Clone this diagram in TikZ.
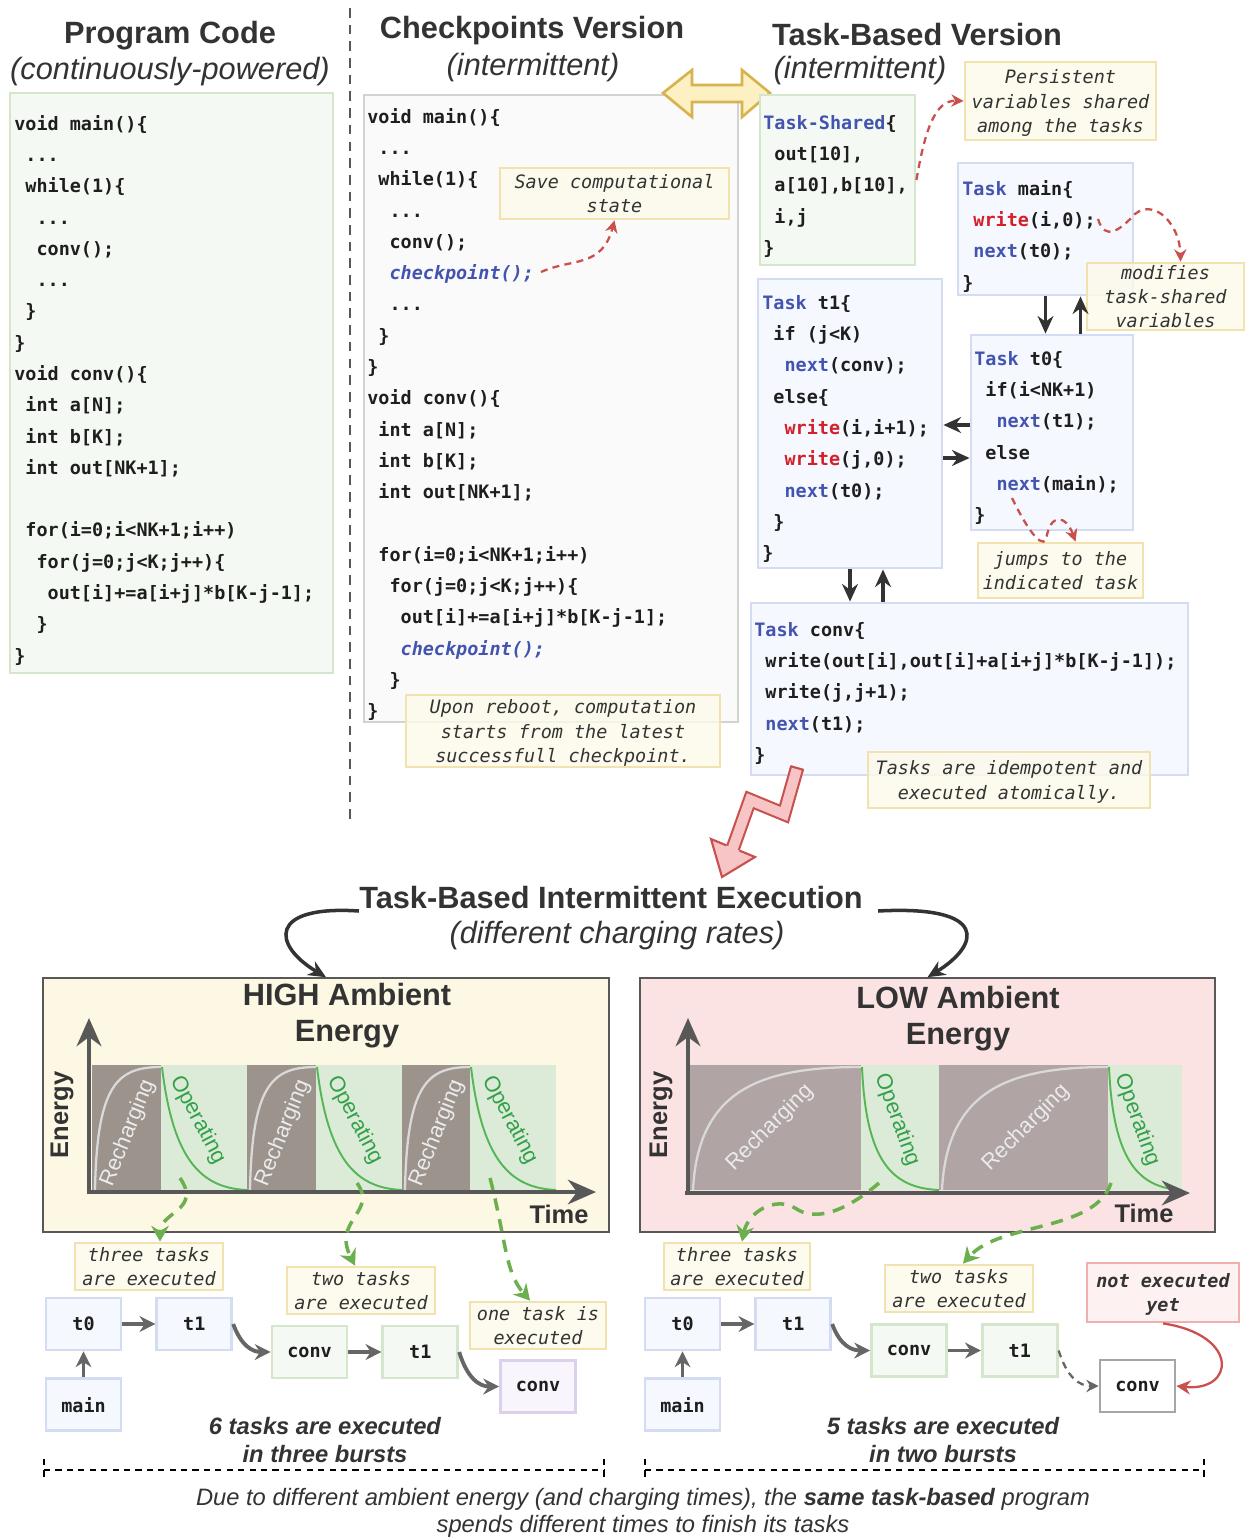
\documentclass[tikz,border=0pt]{standalone}
\usepackage{fontspec}
\setmainfont{Liberation Sans}
\setmonofont{DejaVu Sans Mono}
\usetikzlibrary{arrows.meta,fit,positioning}

\definecolor{ink}{HTML}{333333}
\definecolor{codeink}{HTML}{1E1E1E}
\definecolor{kwblue}{HTML}{4354B0}
\definecolor{kwred}{HTML}{D3202A}
\definecolor{pgreenline}{HTML}{D4E7CD}
\definecolor{pgreenfill}{HTML}{F5F9F3}
\definecolor{cgrayline}{HTML}{D2D2D2}
\definecolor{cgrayfill}{HTML}{FAFAFA}
\definecolor{tblueline}{HTML}{D3DCF1}
\definecolor{tbluefill}{HTML}{F5F8FE}
\definecolor{noteline}{HTML}{F2E2B0}
\definecolor{notefill}{HTML}{FDFAEA}
\definecolor{tpurpleline}{HTML}{DCD0EA}
\definecolor{tpurplefill}{HTML}{F8F5FC}
\definecolor{redline}{HTML}{F0B0B0}
\definecolor{redfill}{HTML}{FDEEEE}
\definecolor{arrred}{HTML}{C9504D}
\definecolor{arrgreen}{HTML}{6BAF4E}
\definecolor{highfill}{HTML}{FDF8E4}
\definecolor{lowfill}{HTML}{FBE3E3}
\definecolor{rechigh}{HTML}{9C938C}
\definecolor{reclow}{HTML}{B0A4A4}
\definecolor{opfill}{HTML}{DCEBD7}
\definecolor{opline}{HTML}{55B655}
\definecolor{optext}{HTML}{33A04A}
\definecolor{axisgray}{HTML}{585858}
\definecolor{flowgray}{HTML}{666666}
\definecolor{boltfill}{HTML}{F7C5C5}
\definecolor{swapfill}{HTML}{FDF0C3}
\definecolor{swapline}{HTML}{D8B24E}

\newcommand{\kwb}[1]{\textcolor{kwblue}{#1}}
\newcommand{\kwr}[1]{\textcolor{kwred}{#1}}
\newcommand{\cind}[1]{\hspace*{\dimexpr#1\fontcharwd\font`x\relax}}
\newcommand{\ckpt}{\textcolor{kwblue}{\itshape checkpoint();}}

\tikzset{
  headtxt/.style={font=\fontsize{17.5}{20.5}\selectfont\bfseries, text=ink, align=center, inner sep=0pt},
  subtxt/.style={font=\fontsize{17.5}{21}\selectfont\itshape, text=ink, inner sep=0pt},
  codetxt/.style={anchor=north west, inner sep=0pt, align=left, text=codeink,
    font=\fontsize{10.5}{17.8}\selectfont\ttfamily\bfseries},
  codebox/.style={line width=1.6pt, inner sep=0pt},
  greenbox/.style={codebox, draw=pgreenline, fill=pgreenfill},
  graybox/.style={codebox, draw=cgrayline, fill=cgrayfill},
  bluebox/.style={codebox, draw=tblueline, fill=tbluefill},
  note/.style={draw=noteline, fill=notefill, fill opacity=0.8, text opacity=1, line width=1.6pt,
    inner sep=0pt, align=center, text=ink, text depth=0pt, font=\fontsize{10.5}{13.8}\selectfont\ttfamily\itshape},
  rednote/.style={note, draw=redline, fill=redfill, font=\fontsize{10.5}{13.8}\selectfont\ttfamily\bfseries\itshape},
  task/.style={minimum width=1.5cm, minimum height=1.04cm, line width=1.6pt, inner sep=0pt,
    text=codeink, font=\fontsize{10.5}{12}\selectfont\ttfamily\bfseries},
  tblue/.style={task, draw=tblueline, fill=tbluefill},
  tgreen/.style={task, draw=pgreenline, fill=pgreenfill},
  tpurple/.style={task, draw=tpurpleline, fill=tpurplefill},
  tplain/.style={task, draw=black!35, fill=white},
  panel/.style={draw=axisgray, line width=0.9pt, inner sep=0pt},
  axislbl/.style={font=\fontsize{14.5}{16}\selectfont\bfseries, text=ink, inner sep=0pt},
  rechtxt/.style={font=\fontsize{12.5}{14}\selectfont, text=white!92!black, inner sep=0pt},
  optxt/.style={font=\fontsize{12.5}{14}\selectfont, text=optext, inner sep=0pt},
  capt/.style={font=\fontsize{13.5}{15.4}\selectfont\bfseries\itshape, text=ink, align=center, inner sep=0pt},
  blk/.style={-{Stealth[length=10pt,width=9pt]}, line width=1.8pt, draw=ink},
  flow/.style={-{Stealth[length=9pt,width=9pt]}, line width=2.2pt, draw=flowgray},
  rdash/.style={draw=arrred, line width=1.3pt, dash pattern=on 4pt off 3pt, -{Stealth[length=7pt,width=7pt]}},
  gdash/.style={draw=arrgreen, line width=2pt, dash pattern=on 7pt off 5pt, -{Stealth[length=9pt,width=10pt]}},
  axis/.style={draw=axisgray, line width=2.5pt, -{Stealth[length=16pt,width=14pt]}},
  brace/.style={draw=black, line width=0.9pt, dash pattern=on 3.5pt off 3pt},
}

\begin{document}
\begin{tikzpicture}[x=0.02cm, y=-0.02cm]
  \useasboundingbox (0,0) rectangle (1245,1540);

  % ---- headings of the three versions
  \node[headtxt] (pchead) at (170,36) {Program Code};
  \node[subtxt] (pcsub) at (170,72) {(continuously-powered)};
  \node[headtxt] (ckhead) at (532,31) {Checkpoints Version};
  \node[subtxt] (cksub) at (533,68) {(intermittent)};
  \node[headtxt] (tbhead) at (917,35) {Task-Based Version};
  \node[subtxt] (tbsub) at (860,71) {(intermittent)};

  \draw[axisgray, line width=1.7pt, dash pattern=on 5.5pt off 4pt] (350,8) -- (350,825);

  % ---- program code
  \node[greenbox, fit={(10,93) (333,673)}] (pcbox) {};
  \node[codetxt] (pcode) at (14,115) {void main()\{\\
\cind{1}...\\
\cind{1}while(1)\{\\
\cind{2}...\\
\cind{2}conv();\\
\cind{2}...\\
\cind{1}\}\\
\}\\
void conv()\{\\
\cind{1}int a[N];\\
\cind{1}int b[K];\\
\cind{1}int out[NK+1];\\[17.8pt]
\cind{1}for(i=0;i<NK+1;i++)\\
\cind{2}for(j=0;j<K;j++)\{\\
\cind{3}out[i]+=a[i+j]*b[K-j-1];\\
\cind{2}\}\\
\}};

  % ---- checkpoints version
  \node[graybox, fit={(364,95) (738,722)}] (ckbox) {};
  \node[codetxt] (ckcode) at (367,108) {void main()\{\\
\cind{1}...\\
\cind{1}while(1)\{\\
\cind{2}...\\
\cind{2}conv();\\
\cind{2}\ckpt\\
\cind{2}...\\
\cind{1}\}\\
\}\\
void conv()\{\\
\cind{1}int a[N];\\
\cind{1}int b[K];\\
\cind{1}int out[NK+1];\\[17.8pt]
\cind{1}for(i=0;i<NK+1;i++)\\
\cind{2}for(j=0;j<K;j++)\{\\
\cind{3}out[i]+=a[i+j]*b[K-j-1];\\
\cind{3}\ckpt\\
\cind{2}\}\\
\}};
  \node[note, minimum width=4.58cm, minimum height=1.02cm] (savenote) at (614.5,193.5) {Save computational\\state};
  \node[note, minimum width=6.28cm, minimum height=1.44cm] (rebootnote) at (563,731) {Upon reboot, computation\\starts from the latest\\successfull checkpoint.};
  \coordinate (ckptA) at (541,272);
  \draw[rdash] (ckptA) .. controls (572,258) and (602,268) .. (savenote.south);

  % swap arrow between the versions
  \draw[swapline, fill=swapfill, line width=1.5pt, line join=miter]
    (663,93) -- (692,70) -- (692,85) -- (742,85) -- (742,70) -- (770,93)
    -- (742,117) -- (742,102) -- (692,102) -- (692,117) -- cycle;

  % ---- task-based version
  \node[greenbox, fit={(760,95) (915,265)}] (tshbox) {};
  \node[codetxt] (tshcode) at (763,115) {\kwb{Task-Shared}\{\\
\cind{1}out[10],\\
\cind{1}a[10],b[10],\\
\cind{1}i,j\\
\}};
  \node[bluebox, fit={(958,163) (1133,295)}] (tmainbox) {};
  \node[codetxt] (tmaincode) at (962,180) {\kwb{Task} main\{\\
\cind{1}\kwr{write}(i,0);\\
\cind{1}\kwb{next}(t0);\\
\}};
  \node[bluebox, fit={(758,279) (942,568)}] (tt1box) {};
  \node[codetxt] (tt1code) at (762,295) {\kwb{Task} t1\{\\
\cind{1}if (j<K)\\
\cind{2}\kwb{next}(conv);\\
\cind{1}else\{\\
\cind{2}\kwr{write}(i,i+1);\\
\cind{2}\kwr{write}(j,0);\\
\cind{2}\kwb{next}(t0);\\
\cind{1}\}\\
\}};
  \node[bluebox, fit={(971,335) (1133,530)}] (tt0box) {};
  \node[codetxt] (tt0code) at (974,351) {\kwb{Task} t0\{\\
\cind{1}if(i<NK+1)\\
\cind{2}\kwb{next}(t1);\\
\cind{1}else\\
\cind{2}\kwb{next}(main);\\
\}};
  \node[bluebox, fit={(751,603) (1188,775)}] (tconvbox) {};
  \node[codetxt] (tconvcode) at (754,622) {\kwb{Task} conv\{\\
\cind{1}write(out[i],out[i]+a[i+j]*b[K-j-1]);\\
\cind{1}write(j,j+1);\\
\cind{1}\kwb{next}(t1);\\
\}};

  \node[note, minimum width=3.82cm, minimum height=1.56cm] (persistnote) at (1060.5,101) {Persistent\\variables shared\\among the tasks};
  \node[note, minimum width=3.14cm, minimum height=1.34cm] (modnote) at (1165.5,296.5) {modifies\\task-shared\\variables};
  \node[note, minimum width=3.3cm, minimum height=1.1cm] (jumpnote) at (1060.5,570.5) {jumps to the\\indicated task};
  \node[note, minimum width=5.64cm, minimum height=1.12cm] (idemnote) at (1009,780) {Tasks are idempotent and\\executed atomically.};

  \draw[rdash] (tshbox.east) .. controls (925,130) and (935,100) .. (persistnote.west);
  \coordinate (writeA) at (1098,219);
  \draw[rdash] (writeA) .. controls (1105,242) and (1120,230) .. (1135,214)
    .. controls (1155,198) and (1180,225) .. ([xshift=0.3cm]modnote.north);
  \coordinate (jumpA) at (1012,498);
  \draw[rdash] (jumpA) .. controls (1025,525) and (1040,548) .. (1046,540)
    .. controls (1050,512) and (1066,515) .. ([xshift=0.3cm]jumpnote.north);

  % task arrows
  \draw[blk] (tmainbox.south) -- (tmainbox.south |- tt0box.north);
  \draw[blk] ([xshift=0.7cm]tmainbox.south |- tt0box.north) -- ([xshift=0.7cm]tmainbox.south);
  \draw[blk] (tt0box.west |- 0,425) -- (tt1box.east |- 0,425);
  \draw[blk] (tt1box.east |- 0,458) -- (tt0box.west |- 0,458);
  \draw[blk] (tt1box.south) -- (tt1box.south |- tconvbox.north);
  \draw[blk] ([xshift=0.66cm]tt1box.south |- tconvbox.north) -- ([xshift=0.66cm]tt1box.south);

  % zigzag arrow
  \draw[arrred, line width=1.2pt, double=boltfill, double distance=5.8pt, line join=miter]
    (797,768) -- (784,814) -- (750,800) -- (731.5,852);
  \filldraw[fill=boltfill, draw=arrred, line width=1.2pt, line join=miter]
    (739.5,850.6) -- (755,857) -- (722,877) -- (711,839) -- (726.5,845.4);
  \draw[arrred, line width=1.2pt] (790.3,766.1) -- (803.7,769.9);

  % ---- intermittent execution
  \node[headtxt] (exectitle) at (611,898) {Task-Based Intermittent Execution};
  \node[subtxt] (execsub) at (617,936) {(different charging rates)};

  \node[panel, fill=highfill, fit={(43,978) (609,1232)}] (highpanel) {};
  \node[panel, fill=lowfill, fit={(640,978) (1215,1232)}] (lowpanel) {};
  \draw[blk, line width=2pt] ([yshift=-0.26cm]exectitle.west) .. controls (268,905) and (272,945) .. (highpanel.north);
  \draw[blk, line width=2pt] ([xshift=0.3cm,yshift=-0.26cm]exectitle.east) .. controls (990,905) and (980,945) .. (lowpanel.north);

  \node[headtxt] (hightitle) at (347,1016) {HIGH Ambient\\Energy};
  \node[headtxt] (lowtitle) at (958,1019) {LOW Ambient\\Energy};

  % high ambient energy chart
  \foreach \a/\b in {92/161, 247/316, 402/470} {
    \fill[rechigh] (\a,1065) rectangle (\b,1190);
    \draw[white!85!black, line width=1.3pt] (\a+3,1190) .. controls (\a+5,1085) and (\a+25,1067) .. (\b,1067);
  }
  \foreach \a/\b in {161/247, 316/402, 470/556} {
    \fill[opfill] (\a,1065) rectangle (\b,1190);
    \draw[opline, line width=1.1pt] (\a+1,1067) .. controls (\a+12,1160) and (\a+40,1188) .. (\b,1190);
  }
  \foreach \x in {128, 283, 437}
    \node[rechtxt, rotate=68] at (\x,1133) {Recharging};
  \foreach \x in {198, 355, 510}
    \node[optxt, rotate=-62] at (\x,1120) {Operating};
  \draw[axis] (87,1192) -- (596,1192);
  \draw[axis] (89,1194) -- (89,1018);
  \node[axislbl, rotate=90] (highy) at (62,1115) {Energy};
  \node[axislbl] (highx) at (559,1214) {Time};

  % low ambient energy chart
  \foreach \a/\b in {690/861, 939/1108} {
    \fill[reclow] (\a,1065) rectangle (\b,1190);
    \draw[white!85!black, line width=1.3pt] (\a+3,1190) .. controls (\a+8,1090) and (\a+70,1067) .. (\b,1067);
  }
  \foreach \a/\b in {861/939, 1108/1182} {
    \fill[opfill] (\a,1065) rectangle (\b,1190);
    \draw[opline, line width=1.1pt] (\a+1,1067) .. controls (\a+5,1160) and (\a+30,1188) .. (\b,1190);
  }
  \foreach \x in {770, 1026}
    \node[rechtxt, rotate=45] at (\x,1128) {Recharging};
  \foreach \x in {897, 1137}
    \node[optxt, rotate=-70] at (\x,1120) {Operating};
  \draw[axis] (685,1193) -- (1190,1193);
  \draw[axis] (688,1195) -- (688,1018);
  \node[axislbl, rotate=90] (lowy) at (661,1115) {Energy};
  \node[axislbl] (lowx) at (1144,1213) {Time};

  % ---- executed tasks, high energy
  \node[tblue] (ht0) at (83.5,1324) {t0};
  \node[tblue, right=0.66cm of ht0] (ht1) {t1};
  \node[tblue, below=0.52cm of ht0] (hmain) {main};
  \node[tgreen] (hconv) at (309.5,1352) {conv};
  \node[tgreen, right=0.66cm of hconv] (ht1b) {t1};
  \node[tpurple] (hconvc) at (538,1386.5) {conv};
  \node[note, minimum width=2.96cm, minimum height=0.94cm] (hthree) at (149,1266.5) {three tasks\\are executed};
  \node[note, minimum width=2.96cm, minimum height=0.94cm] (htwo) at (361,1290.5) {two tasks\\are executed};
  \node[note, minimum width=2.72cm, minimum height=0.94cm] (hone) at (538,1325.5) {one task is\\executed};

  \draw[flow] (ht0) -- (ht1);
  \draw[flow] (hmain) -- (ht0);
  \draw[flow] (ht1.east) .. controls +(8,22) and +(-18,0) .. (hconv.west);
  \draw[flow] (hconv) -- (ht1b);
  \draw[flow] (ht1b.east) .. controls +(8,26) and +(-20,0) .. (hconvc.west);

  \draw[gdash] (180,1178) .. controls (202,1210) and (160,1212) .. (hthree.north -| 160,0);
  \draw[gdash] (357,1183) .. controls (378,1212) and (332,1220) .. (htwo.north -| 355,0);
  \draw[gdash] (490,1178) .. controls (506,1240) and (505,1272) .. (hone.north -| 530,0);

  % ---- executed tasks, low energy
  \node[tblue] (lt0) at (682.5,1324) {t0};
  \node[tblue, right=0.66cm of lt0] (lt1) {t1};
  \node[tblue, below=0.52cm of lt0] (lmain) {main};
  \node[tgreen] (lconv) at (909,1350.5) {conv};
  \node[tgreen, right=0.66cm of lconv] (lt1b) {t1};
  \node[tplain] (lconvc) at (1137.5,1386) {conv};
  \node[note, minimum width=2.92cm, minimum height=0.94cm] (lthree) at (737,1266.5) {three tasks\\are executed};
  \node[note, minimum width=2.96cm, minimum height=0.94cm] (ltwo) at (959,1288.5) {two tasks\\are executed};
  \node[rednote, minimum width=3.04cm, minimum height=1.18cm] (notyet) at (1163,1292.5) {not executed\\yet};

  \draw[flow] (lt0) -- (lt1);
  \draw[flow] (lmain) -- (lt0);
  \draw[flow] (lt1.east) .. controls +(8,22) and +(-18,0) .. (lconv.west);
  \draw[flow] (lconv) -- (lt1b);
  \draw[flow, line width=1.3pt, dash pattern=on 4pt off 3pt, -{Stealth[length=7pt,width=7pt]}]
    (lt1b.east) .. controls +(8,26) and +(-20,0) .. (lconvc.west);
  \draw[arrred, line width=1.3pt, -{Stealth[length=8pt,width=8pt]}]
    (notyet.south) .. controls (1240,1335) and (1235,1392) .. (lconvc.east);

  \draw[gdash] (879,1183) .. controls (845,1212) and (815,1222) .. (795,1208)
    .. controls (775,1196) and (748,1212) .. (lthree.north -| 742,0);
  \draw[gdash] (1111,1183) .. controls (1095,1232) and (1000,1222) .. (ltwo.north -| 963,0);

  % ---- summaries
  \node[capt] (hsum) at (325,1440) {6 tasks are executed\\in three bursts};
  \node[capt] (lsum) at (943,1440) {5 tasks are executed\\in two bursts};
  \draw[brace] (44,1470) -- (604,1470);
  \draw[brace] (44,1459) -- (44,1480);
  \draw[brace] (604,1459) -- (604,1480);
  \draw[brace] (645,1470) -- (1204,1470);
  \draw[brace] (645,1459) -- (645,1480);
  \draw[brace] (1204,1459) -- (1204,1480);

  \node[font=\fontsize{13.5}{15.4}\selectfont\itshape, text=ink, align=center, inner sep=0pt] (bottomcap) at (643,1513)
    {Due to different ambient energy (and charging times), the \textbf{same task-based} program\\spends different times to finish its tasks};
\end{tikzpicture}
\end{document}
